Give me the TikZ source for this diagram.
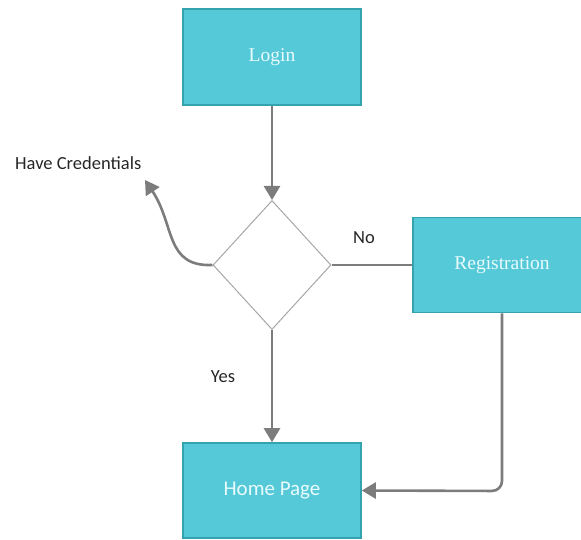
\documentclass[tikz,border=0pt]{standalone}
\usepackage{fontspec}
\setmainfont{Liberation Serif}
\newfontfamily\labfont{Carlito}
\usetikzlibrary{arrows.meta,shapes.geometric}
\definecolor{boxfill}{HTML}{56C9D8}
\definecolor{boxedge}{HTML}{33A3B0}
\definecolor{conn}{HTML}{7C7C7C}
\definecolor{txtc}{HTML}{E8FBFD}
\begin{document}
\begin{tikzpicture}[x=1pt,y=-1pt,
  procbox/.style={draw=boxedge,line width=1.6pt,fill=boxfill,minimum width=178pt,minimum height=96pt,inner sep=0pt,text=txtc,font=\fontsize{19.5}{22}\selectfont},
  decision/.style={draw=gray!70,line width=1pt,diamond,minimum width=118pt,minimum height=129pt,inner sep=0pt,aspect=0.92},
  conn/.style={draw=conn,line width=2.6pt},
  arr/.style={conn,-{Triangle[length=14pt,width=16pt]}},
  lab/.style={font=\labfont\fontsize{18.5}{21}\selectfont,text=black!85,inner sep=0pt}]
\useasboundingbox (0,0) rectangle (581,540);
\begin{scope}
\clip (0,0) rectangle (581,540);
\node[procbox] (login) at (272,57) {Login};
\node[decision] (dec) at (272,265) {};
\node[procbox,minimum height=95pt] (reg) at (502,265) {Registration};
\node[procbox,minimum height=95pt,font=\labfont\fontsize{21}{24}\selectfont] (home) at (272,490.5) {Home Page};
\end{scope}
\node[lab,anchor=west] (cred) at (15,163) {Have Credentials};
\node[lab] (no) at (364,238) {No};
\node[lab] (yes) at (223,377) {Yes};
\coordinate (credtip) at (145,180);
\draw[arr] (login.south) -- (dec.north);
\draw[conn] (dec.east) -- (reg.west);
\draw[arr] (dec.south) -- (home.north);
\draw[arr] (dec.west) .. controls (165,267) and (175,225) .. (credtip);
\draw[arr,rounded corners=10pt] (reg.south) -- (502,491) -- (home.east);
\end{tikzpicture}
\end{document}
